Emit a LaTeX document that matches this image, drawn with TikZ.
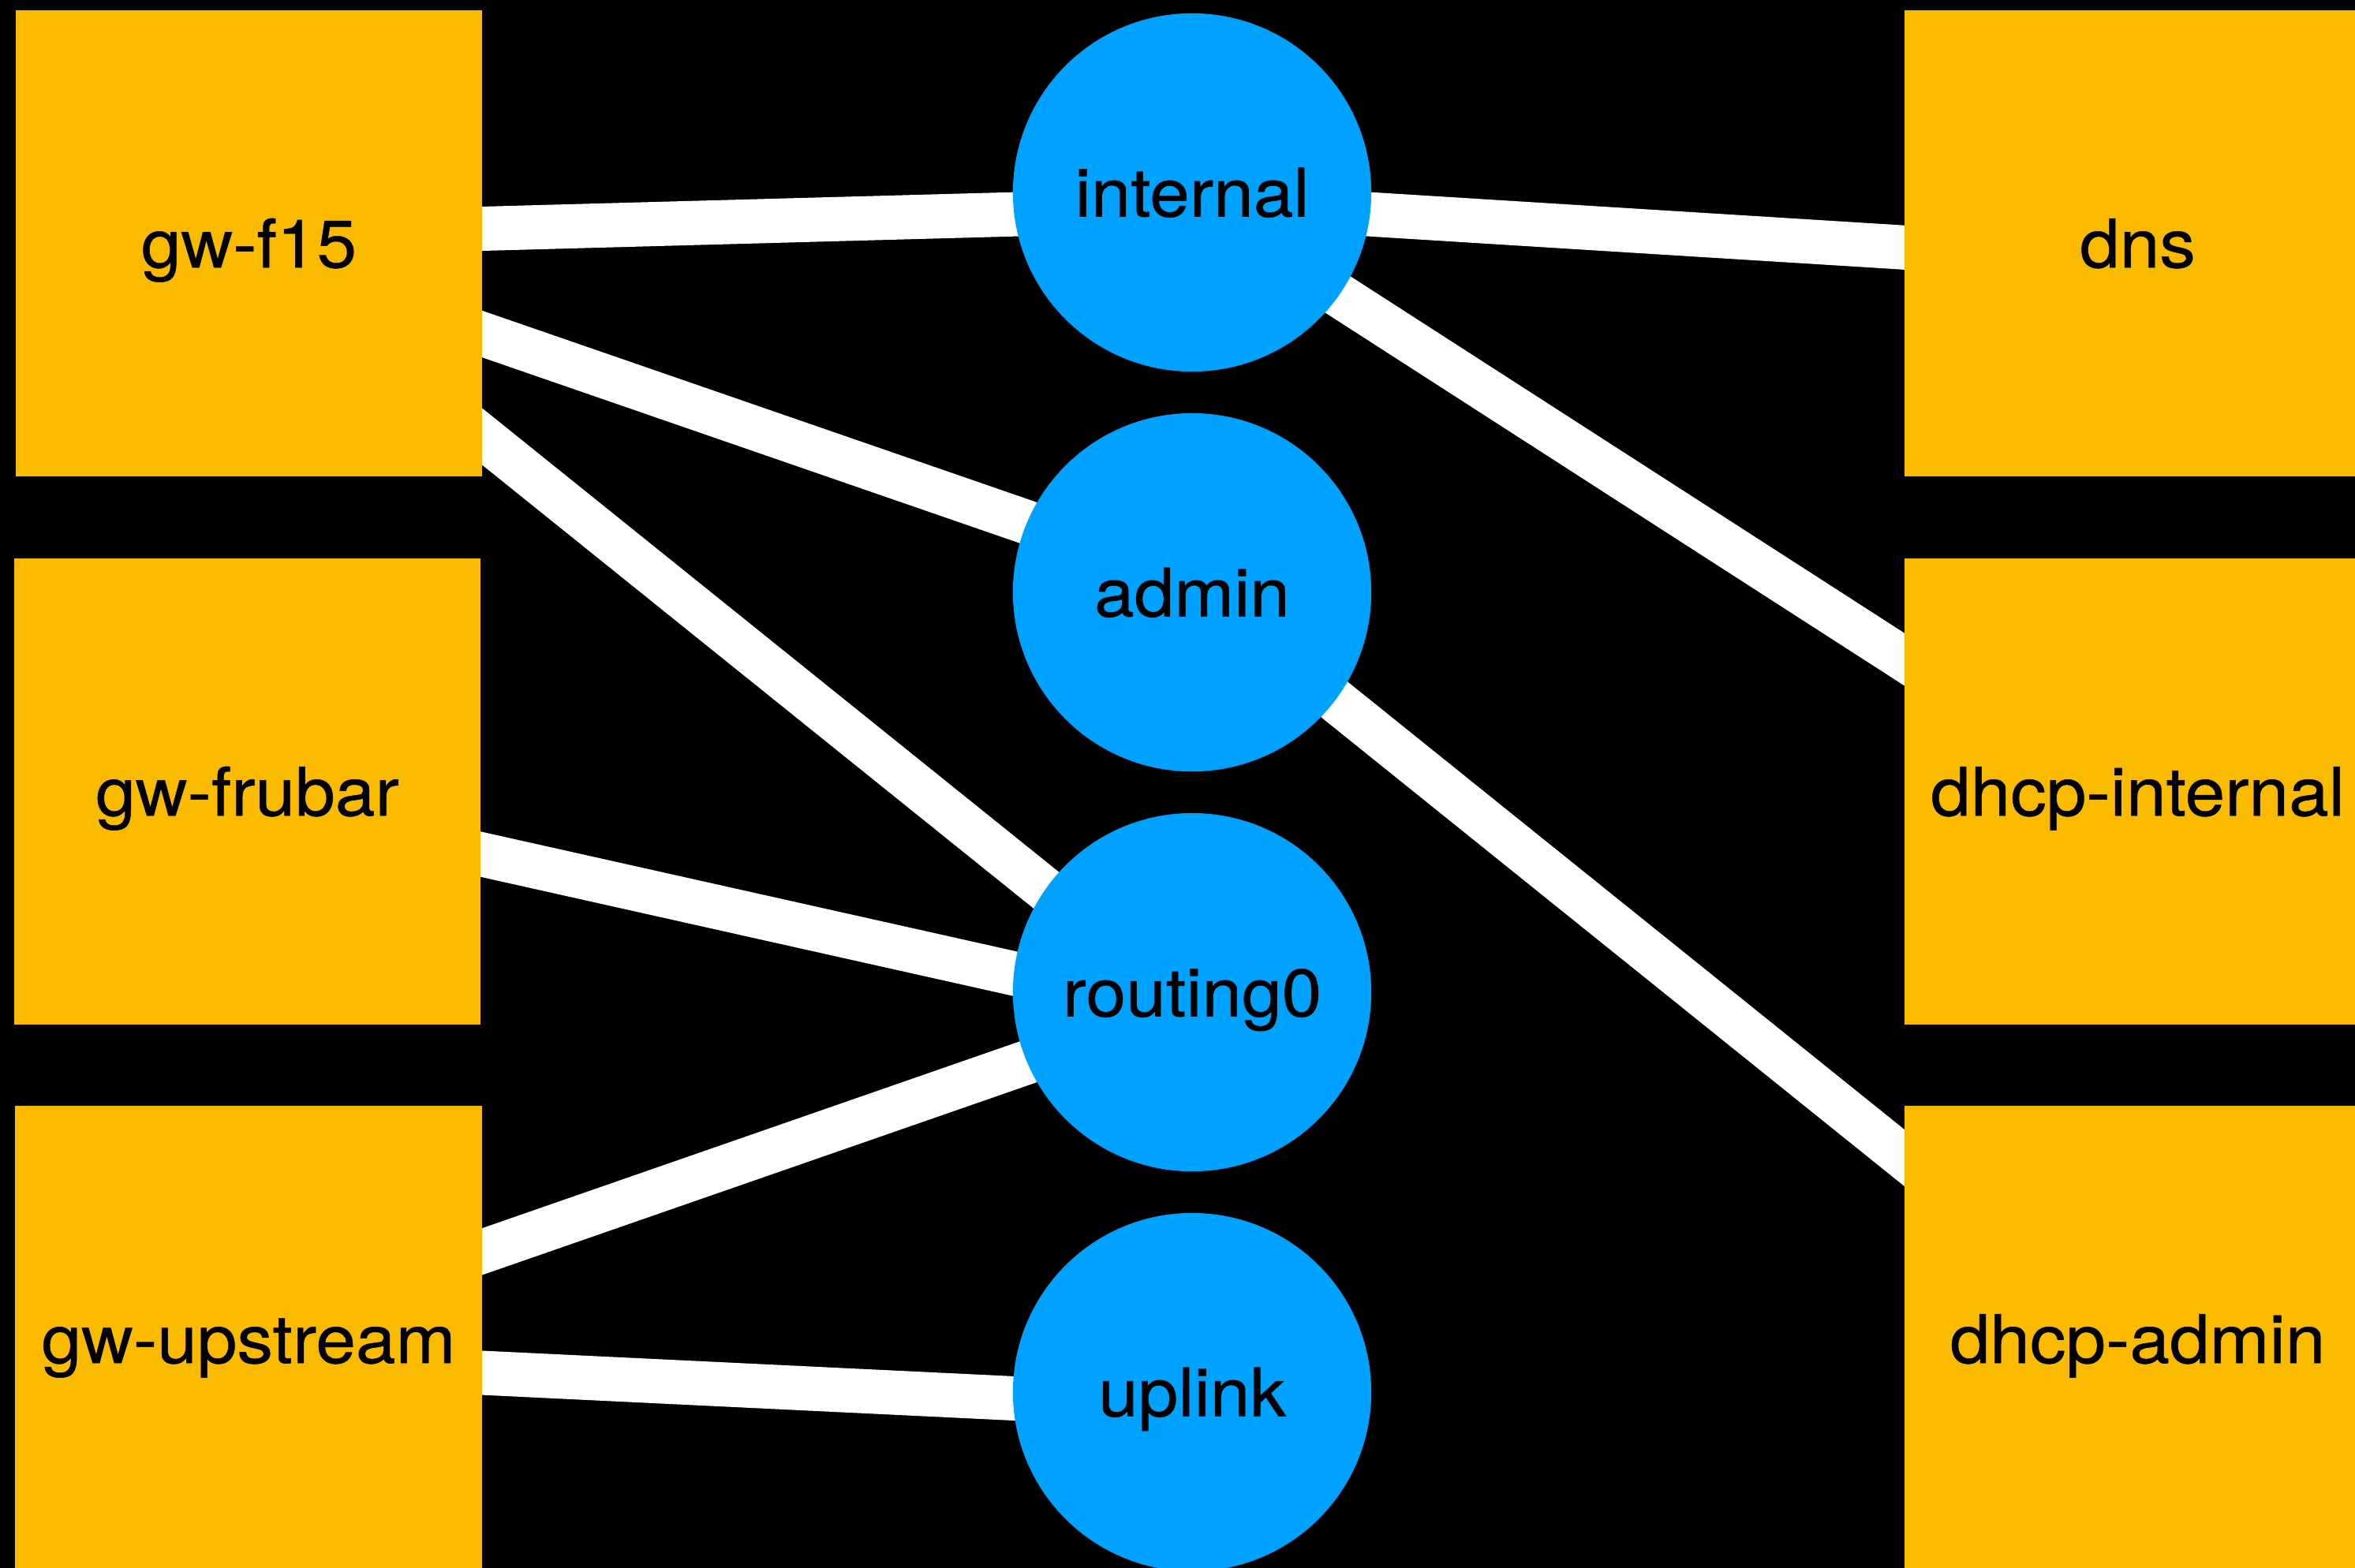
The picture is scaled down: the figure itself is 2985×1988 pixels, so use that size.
\documentclass[tikz,border=0pt]{standalone}
\usepackage{fontspec}
\setmainfont{TeX Gyre Heros}[FakeStretch=1.07, UprightFeatures={FakeBold=0.6}]
\usetikzlibrary{calc}
\definecolor{boxyellow}{RGB}{249,186,0}
\definecolor{netblue}{RGB}{0,162,255}
\pgfdeclarelayer{bg}
\pgfsetlayers{bg,main}
\begin{document}
\begin{tikzpicture}[x=0.01cm,y=-0.01cm,
  labelfont/.style={font=\fontsize{24.2pt}{29pt}\selectfont, text=black, text height=17.4pt, text depth=0pt},
  hostbox/.style={rectangle, fill=boxyellow, minimum width=5.91cm, minimum height=5.91cm, inner sep=0pt, outer sep=0pt, labelfont},
  netcircle/.style={circle, fill=netblue, minimum size=4.54cm, inner sep=0pt, outer sep=0pt, labelfont},
  link/.style={draw=white, line width=0.56cm, shorten <=-0.4cm, shorten >=-0.4cm}]
\useasboundingbox (0,0) rectangle (2985,1988);
% hosts, left column
\node[hostbox] (gwf15)      at (315.5,308.5)  {gw-f15};
\node[hostbox] (gwfrubar)   at (313.5,1003.5) {gw-frubar};
\node[hostbox] (gwupstream) at (315,1697.5)   {gw-upstream};
% hosts, right column
\node[hostbox] (dns)     at (2709.5,308.5)  {dns};
\node[hostbox] (dhcpint) at (2709.5,1003.5) {dhcp-internal};
\node[hostbox] (dhcpadm) at (2709.5,1697.5) {dhcp-admin};
% networks
\node[netcircle] (internal) at (1511,244)  {internal};
\node[netcircle] (admin)    at (1511,751)  {admin};
\node[netcircle] (routing0) at (1511,1258) {routing0};
\node[netcircle] (uplink)   at (1511,1765) {uplink};
\begin{pgfonlayer}{bg}
\fill[black] (0,0) rectangle (2985,1988);
\draw[link] ($(gwf15.east)+(0,-18.5)$) -- (internal.187);
\draw[link] ($(gwf15.east)+(0,115)$) -- (admin.157);
\draw[link] ($(gwf15.east)+(0,245)$) -- (routing0.145);
\draw[link] ($(gwfrubar.east)+(0,79.5)$) -- (routing0.174);
\draw[link] ($(gwupstream.east)+(0,-110.5)$) -- (routing0.203);
\draw[link] ($(gwupstream.east)+(0,43)$) -- (uplink.182);
\draw[link] (internal.353) -- ($(dns.west)+(0,5.3)$);
\draw[link] (internal.325) -- ($(dhcpint.west)+(0,-167.5)$);
\draw[link] (admin.323) -- ($(dhcpadm.west)+(0,-229.5)$);
\end{pgfonlayer}
\end{tikzpicture}
\end{document}
